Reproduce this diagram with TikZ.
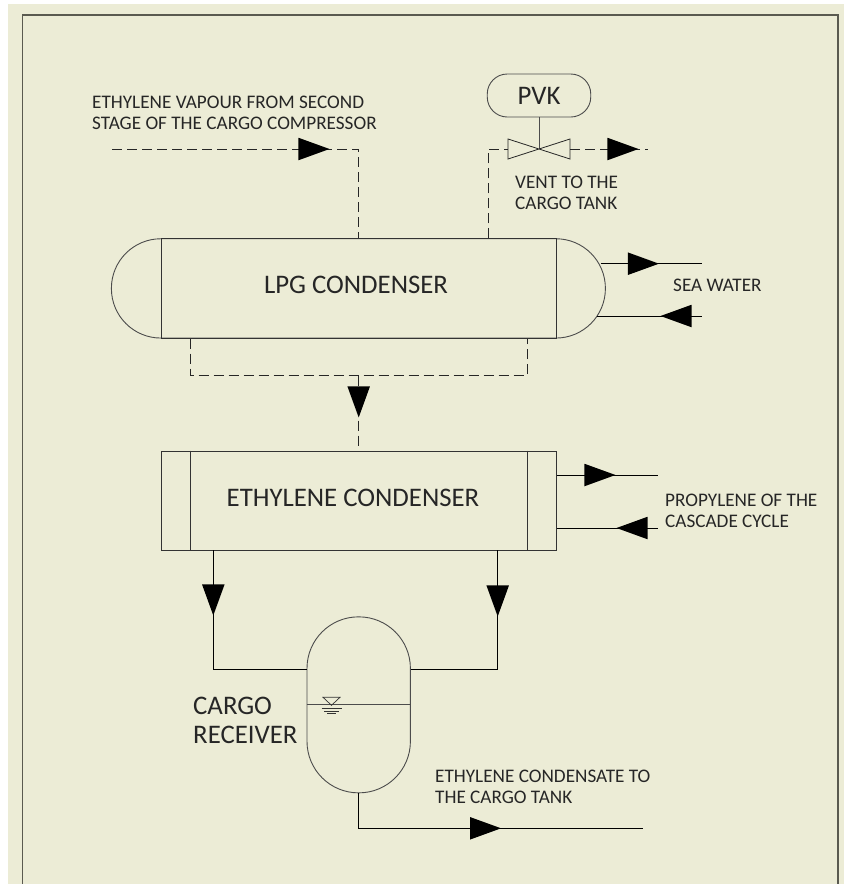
\documentclass[tikz,border=0pt]{standalone}
\usepackage{fontspec}
\setmainfont{Carlito}
\usepackage{tikz}
\usetikzlibrary{shapes.geometric, positioning, arrows.meta, calc}
\definecolor{paper}{RGB}{236,236,214}
\definecolor{frameline}{RGB}{90,90,80}
\tikzset{
  vessel/.style={rectangle, draw=black!70, line width=0.9pt, inner sep=0pt},
  shell/.style={rectangle, draw=black!80, line width=0.9pt, inner sep=0pt},
  smalltext/.style={font=\fontsize{19.2}{20.8}\selectfont, align=left, text=black!85, inner sep=0pt},
  bigtext/.style={font=\fontsize{26.8}{28.5}\selectfont, align=left, text=black!85, inner sep=0pt},
  pipe/.style={draw=black, line width=1pt},
  dashpipe/.style={draw=black!85, line width=0.9pt, dash pattern=on 10pt off 5pt},
  flowtip/.style={fill=black, draw=none, isosceles triangle, isosceles triangle stretches, minimum height=31pt, minimum width=22.5pt, inner sep=0pt, anchor=apex}
}
\begin{document}
\begin{tikzpicture}[x=1pt, y=-1pt]
        \useasboundingbox (0,0) rectangle (844,884);
        \fill [white] (0,0) rectangle (844,884);
        \fill [paper] (8,4) rectangle (844,884);
        \draw [frameline, line width=1.3pt] (22.5,884) -- (22.5,15) -- (838,15) -- (838,884);

        % vessels
        \node (lpgouter) [vessel, minimum width=494pt, minimum height=99.3pt, rounded corners=49.5pt] at (358.4,288.4) {};
        \node (lpg) [shell, minimum width=395.3pt, minimum height=99.3pt] at (358.7,288.4) {};
        \node (eth) [shell, below=112pt of lpg, minimum width=395.3pt, minimum height=99pt] {};
        \node (receiver) [vessel, below=66pt of eth, minimum width=103.4pt, minimum height=176pt, rounded corners=51.5pt] {};
        \draw [shell] ([xshift=29.7pt]eth.north west) -- ([xshift=29.7pt]eth.south west);
        \draw [shell] ([xshift=-29.7pt]eth.north east) -- ([xshift=-29.7pt]eth.south east);
        \draw [vessel] (receiver.west) -- (receiver.east);
        \node (lpgname) [bigtext] at (356,285) {LPG CONDENSER};
        \node (ethname) [bigtext] at (353,497.5) {ETHYLENE CONDENSER};

        % level mark
        \coordinate (level) at (331.5,705.3);
        \draw [black!80, line width=0.7pt] ($(level)+(-8.5,-8)$) -- ($(level)+(8.5,-8)$) -- (level) -- cycle;
        \draw [black!80, line width=0.7pt] ($(level)+(-10,3.4)$) -- ($(level)+(10,3.4)$);
        \draw [black!80, line width=0.7pt] ($(level)+(-7.5,5.8)$) -- ($(level)+(7.5,5.8)$);
        \draw [black!80, line width=0.7pt] ($(level)+(-4.5,8.4)$) -- ($(level)+(4.5,8.4)$);

        % PVK and valve
        \node (pvk) [vessel, minimum width=103.5pt, minimum height=43pt, rounded corners=20pt, font=\fontsize{26.8}{28.5}\selectfont, text=black!85] at (539,95.5) {PVK};
        \coordinate (valve) at (539,149);
        \draw [vessel] (pvk.south) -- (valve);
        \draw [black!85, line width=0.8pt] ($(valve)+(-31,-10)$) -- ($(valve)+(31,10)$) -- ($(valve)+(31,-10)$) -- ($(valve)+(-31,10)$) -- cycle;

        % dashed pipes
        \coordinate (gasin) at (112,149);
        \coordinate (ventend) at (648,149);
        \coordinate (ventdrop) at (488.7,149);
        \coordinate (trayleft) at (190.7,375.7);
        \coordinate (trayright) at (527,375.7);
        \draw [dashpipe] (gasin) -| (lpg.north);
        \draw [dashpipe] (ventdrop |- lpg.north) -- (ventdrop) -- ($(valve)+(-31,0)$);
        \draw [dashpipe] ($(valve)+(31,0)$) -- (ventend);
        \draw [dashpipe] (trayleft |- lpg.south) -- (trayleft) -- (trayright) -- (trayright |- lpg.south);
        \draw [dashpipe] (lpg.center |- trayleft) -- (eth.north);

        % solid pipes
        \coordinate (seaout) at (702,263.7);
        \coordinate (seain) at (702,316);
        \coordinate (propout) at (658,475);
        \coordinate (propin) at (658,528);
        \coordinate (condout) at (643,828.3);
        \coordinate (leftdrain) at (213.3,669.3);
        \coordinate (rightdrain) at (497.7,669.3);
        \draw [pipe] (600.7,263.7) -- (seaout);
        \draw [pipe] (597,316) -- (seain);
        \draw [pipe] (eth.east |- propout) -- (propout);
        \draw [pipe] (eth.east |- propin) -- (propin);
        \draw [pipe] (leftdrain |- eth.south) -- (leftdrain) -- (receiver.west |- leftdrain);
        \draw [pipe] (rightdrain |- eth.south) -- (rightdrain) -- (receiver.east |- rightdrain);
        \draw [pipe] (receiver.south) |- (condout);

        % flow tips
        \node (tipgas) [flowtip] at (330,149) {};
        \node (tipvent) [flowtip] at (639,149) {};
        \node (tipseaout) [flowtip] at (659.5,263.7) {};
        \node (tipseain) [flowtip, rotate=180] at (660,316) {};
        \node (tipdown) [flowtip, rotate=-90] at (358.7,418) {};
        \node (tipprop) [flowtip] at (616,475) {};
        \node (tippropin) [flowtip, rotate=180] at (616,528) {};
        \node (tipleft) [flowtip, rotate=-90] at (213.3,616) {};
        \node (tipright) [flowtip, rotate=-90] at (497.7,617) {};
        \node (tipcond) [flowtip] at (501.6,828.3) {};

        % labels
        \node (lblgas) [smalltext, anchor=base west] at (92,129) {ETHYLENE VAPOUR FROM SECOND\\STAGE OF THE CARGO COMPRESSOR};
        \node (lblvent) [smalltext, anchor=base west] at (515,209) {VENT TO THE\\CARGO TANK};
        \node (lblsea) [smalltext, anchor=base west] at (673,291) {SEA WATER};
        \node (lblprop) [smalltext, anchor=base west] at (665,527) {PROPYLENE OF THE\\CASCADE CYCLE};
        \node (lblcond) [smalltext, anchor=base west] at (435,803) {ETHYLENE CONDENSATE TO\\THE CARGO TANK};
        \node (lblrec) [bigtext, anchor=base west] at (193,743) {CARGO\\RECEIVER};
    \end{tikzpicture}
\end{document}
